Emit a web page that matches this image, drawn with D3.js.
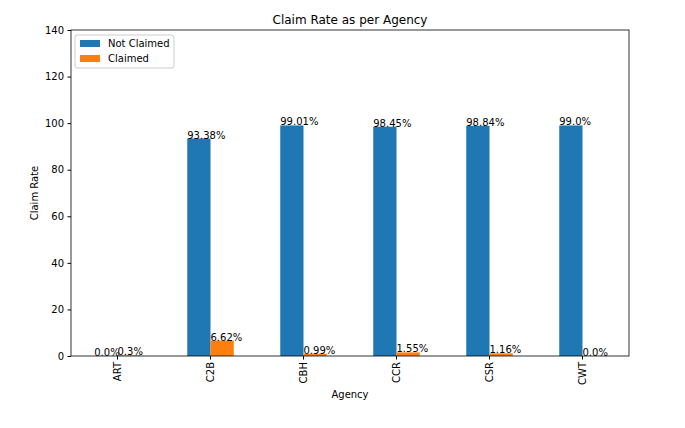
<!DOCTYPE html>
<html><head><meta charset="utf-8">
<script src="https://cdn.jsdelivr.net/npm/d3@7"></script>
<style>body{margin:0;background:#fff;font-family:"DejaVu Sans",sans-serif}</style>
</head><body><svg id="c" width="685" height="428"></svg>
<script>
var agencies = ["ART", "C2B", "CBH", "CCR", "CSR", "CWT"];
var notClaimed = [0.0, 93.38, 99.01, 98.45, 98.84, 99.0];
var claimed = [0.3, 6.62, 0.99, 1.55, 1.16, 0.0];
var yTicks = [0, 20, 40, 60, 80, 100, 120, 140];
var seriesNames = ["Not Claimed", "Claimed"];
var colors = ["#1f77b4", "#ff7f0e"];

var svg = d3.select("#c");
var m = {l: 71, r: 629, t: 30, b: 356};

var x = d3.scaleBand().domain(agencies).range([m.l, m.r]);
var y = d3.scaleLinear().domain([0, 140]).range([m.b, m.t]);
var bw = x.bandwidth() * 0.25;

[notClaimed, claimed].forEach(function(vals, s) {
	var g = svg.append("g");
	g.selectAll("rect").data(vals).enter().append("rect")
		.attr("x", function(d, i) { return x(agencies[i]) + x.bandwidth() / 2 - bw + s * bw; })
		.attr("y", function(d) { return y(d); })
		.attr("width", bw)
		.attr("height", function(d) { return m.b - y(d); })
		.attr("fill", colors[s]);
	g.selectAll("text").data(vals).enter().append("text")
		.attr("x", function(d, i) { return x(agencies[i]) + x.bandwidth() / 2 - bw + s * bw; })
		.attr("y", function(d) { return y(d); })
		.attr("font-size", 10)
		.text(function(d) { return (d % 1 === 0 ? d.toFixed(1) : d) + "%"; });
});

var ya = svg.append("g").attr("transform", "translate(" + m.l + ",0)")
	.call(d3.axisLeft(y).tickValues(yTicks).tickSize(3.5).tickPadding(3.5));
var xa = svg.append("g").attr("transform", "translate(0," + m.b + ")")
	.call(d3.axisBottom(x).tickSize(3.5).tickPadding(3.5));
xa.selectAll("text").attr("transform", "rotate(-90)").attr("text-anchor", "end")
	.attr("x", -6).attr("y", 0).attr("dy", "0.35em");
[ya, xa].forEach(function(a) {
	a.select(".domain").remove();
	a.selectAll("text").attr("font-size", 10).attr("font-family", "DejaVu Sans").attr("fill", "#000");
});

svg.append("rect").attr("x", m.l).attr("y", m.t).attr("width", m.r - m.l).attr("height", m.b - m.t)
	.attr("fill", "none").attr("stroke", "#000").attr("stroke-width", 0.8);

svg.append("text").attr("x", (m.l + m.r) / 2).attr("y", 24).attr("text-anchor", "middle")
	.attr("font-size", 12).text("Claim Rate as per Agency");
svg.append("text").attr("x", (m.l + m.r) / 2).attr("y", 398).attr("text-anchor", "middle")
	.attr("font-size", 10).text("Agency");
svg.append("text").attr("transform", "translate(38," + (m.t + m.b) / 2 + ") rotate(-90)")
	.attr("text-anchor", "middle").attr("font-size", 10).text("Claim Rate");

var lg = svg.append("g").attr("transform", "translate(75,35)");
lg.append("rect").attr("width", 99).attr("height", 33).attr("rx", 2)
	.attr("fill", "#fff").attr("stroke", "#ccc");
seriesNames.forEach(function(n, i) {
	lg.append("rect").attr("x", 5).attr("y", 5 + i * 15).attr("width", 20).attr("height", 7).attr("fill", colors[i]);
	lg.append("text").attr("x", 33).attr("y", 12 + i * 15).attr("font-size", 10).text(n);
});
</script></body></html>
